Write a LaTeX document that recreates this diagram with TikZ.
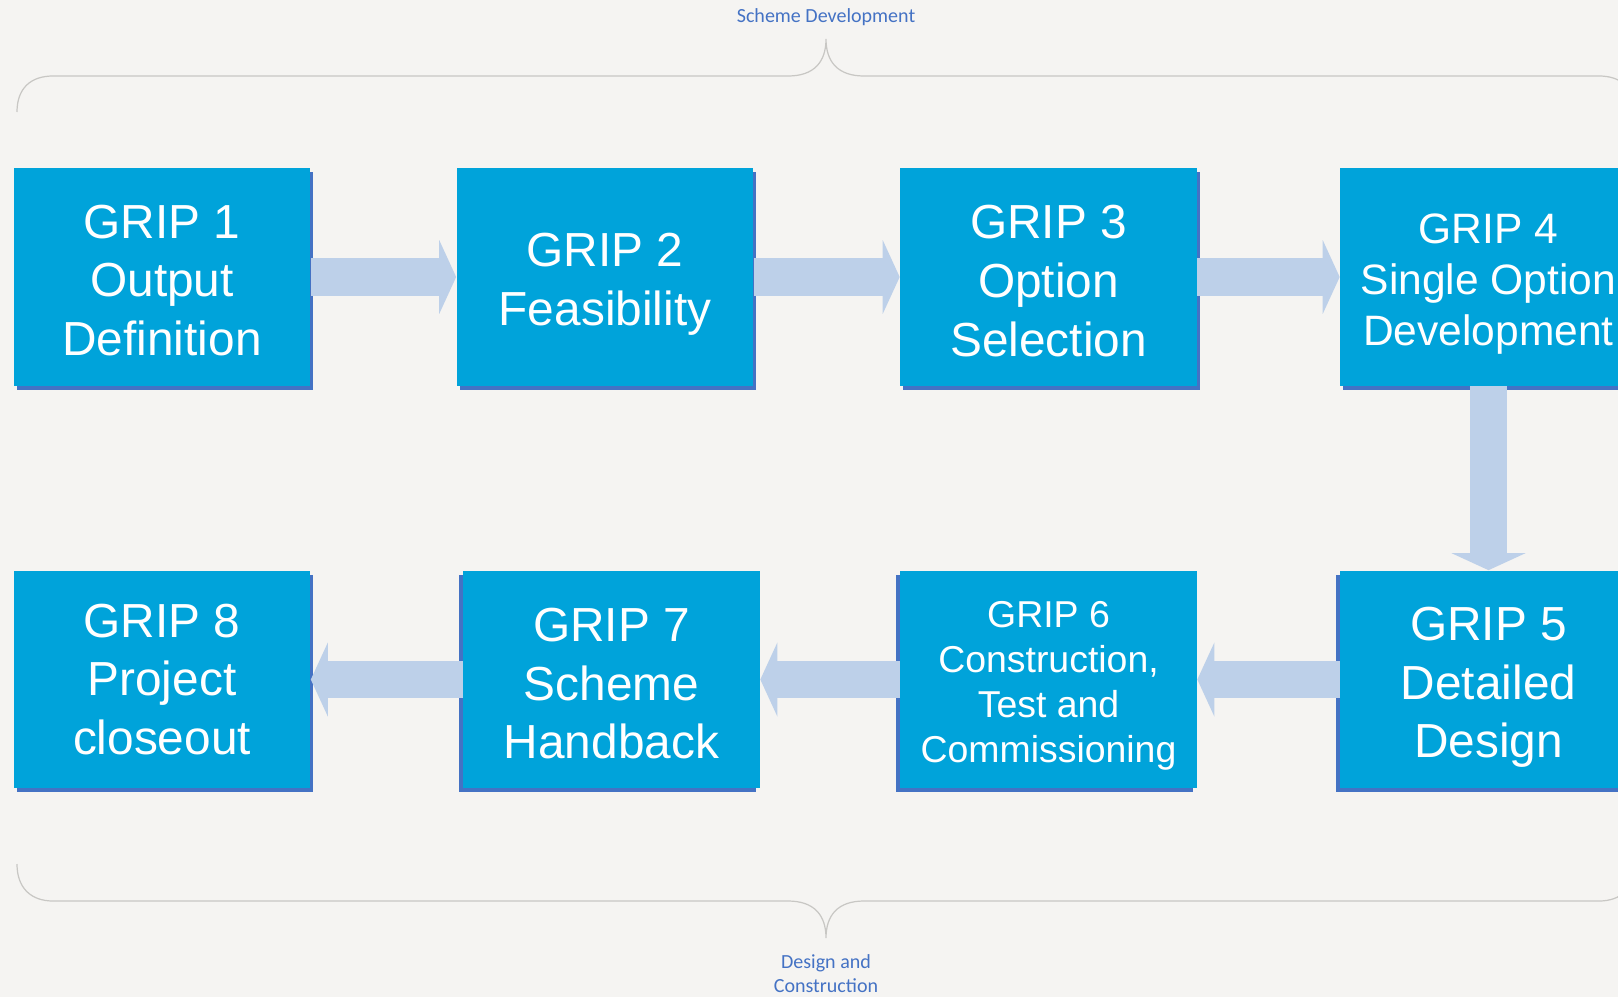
\documentclass[tikz,border=0pt]{standalone}
\usepackage{fontspec}
\setmainfont{Liberation Sans}
\newfontfamily\bracefont{Carlito}
\usetikzlibrary{arrows.meta,shadows}

\definecolor{gripblue}{RGB}{0,163,218}
\definecolor{shadeblue}{RGB}{68,114,196}
\definecolor{flowblue}{RGB}{189,208,233}
\definecolor{bracegray}{RGB}{200,199,196}
\definecolor{paper}{RGB}{245,244,242}

% taller first line pushes the block of text down a little
\newcommand{\gripstrut}[1]{\rule{0pt}{#1}}

\tikzset{
  grip/.style={fill=gripblue, text=white, minimum width=5.94cm, minimum height=4.36cm,
    inner sep=0pt, align=center, font=\fontsize{27.2}{33.3}\selectfont},
  shadeR/.style={general shadow={fill=shadeblue, shadow xshift=0.06cm, shadow yshift=-0.08cm}},
  shadeL/.style={general shadow={fill=shadeblue, shadow xshift=-0.08cm, shadow yshift=-0.08cm}},
  flow/.style={draw=flowblue, line width=0.75cm,
    -{Triangle[length=0.34cm,width=1.48cm,line width=0pt]}},
  phase/.style={text=shadeblue, inner sep=0pt, align=center,
    font=\bracefont\fontsize{11.4}{13.7}\selectfont}
}

\begin{document}
\begin{tikzpicture}[x=0.02cm, y=-0.02cm]
\clip (0,0) rectangle (1618,997);
\fill[paper] (0,0) rectangle (1618,997);

% top row
\node[grip, shadeR] (g1) at (162,277) {\gripstrut{22.5pt}GRIP 1\\Output\\Definition};
\node[grip, shadeR] (g2) at (605,277) {\gripstrut{27.1pt}GRIP 2\\Feasibility};
\node[grip, shadeR] (g3) at (1048.5,277) {\gripstrut{23.6pt}GRIP 3\\Option\\Selection};
\node[grip, shadeR, font=\fontsize{24.2}{29}\selectfont] (g4) at (1488.5,277) {\gripstrut{24.9pt}GRIP 4\\Single Option\\Development};

% bottom row, right to left
\node[grip, shadeL] (g5) at (1488.5,679.5) {\gripstrut{28.3pt}GRIP 5\\Detailed\\Design};
\node[grip, shadeL, font=\fontsize{21.3}{25.6}\selectfont] (g6) at (1048.5,679.5) {\gripstrut{21.6pt}GRIP 6\\Construction,\\Test and\\Commissioning};
\node[grip, shadeL] (g7) at (611.5,679.5) {\gripstrut{23.6pt}GRIP 7\\Scheme\\Handback};
\node[grip, shadeR] (g8) at (162,679.5) {GRIP 8\\Project\\closeout};

\draw[flow] (g1) -- (g2);
\draw[flow] (g2) -- (g3);
\draw[flow] (g3) -- (g4);
\draw[flow] (g4) -- (g5);
\draw[flow] (g5) -- (g6);
\draw[flow] (g6) -- (g7);
\draw[flow] (g7) -- (g8);

% braces
\draw[bracegray, line width=0.7pt] (17,112) .. controls (17,88) and (31,76) .. (53,76) -- (788,76)
  .. controls (814,76) and (826,62) .. (826,39) .. controls (826,62) and (838,76) .. (864,76)
  -- (1599,76) .. controls (1621,76) and (1635,88) .. (1635,112);
\draw[bracegray, line width=0.7pt] (17,864) .. controls (17,888) and (31,901) .. (53,901) -- (788,901)
  .. controls (814,901) and (826,915) .. (826,938) .. controls (826,915) and (838,901) .. (864,901)
  -- (1599,901) .. controls (1621,901) and (1635,888) .. (1635,864);

\node[phase, anchor=base] (scheme) at (826,23) {Scheme Development};
\node[phase, anchor=north] (build) at (826,954) {Design and\\Construction};
\end{tikzpicture}
\end{document}
